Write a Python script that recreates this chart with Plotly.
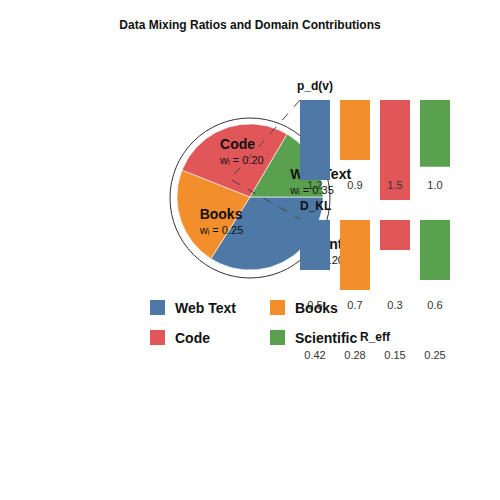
import numpy as np
import plotly.graph_objects as go

# --- data ---
domains = ['Web Text', 'Books', 'Code', 'Scientific']
colors = ['#4e79a7', '#f28e2b', '#e15759', '#59a14f']

weights = [0.35, 0.25, 0.20, 0.20]          # printed in the slice labels
slice_share = [0.34, 0.22, 0.275, 0.165]    # slice sizes as drawn
p_d = [1.2, 0.9, 1.5, 1.0]                  # p_d(v)
d_kl = [0.5, 0.7, 0.3, 0.6]                 # D_KL
r_eff = [0.42, 0.28, 0.15, 0.25]            # R_eff

FONT = 'Liberation Sans, Arial, sans-serif'
R = 73.0  # pie radius in px, pie axes use 1 unit = R px

# label anchor points in pie units (left aligned)
label_pos = [(0.55, 0.30), (-0.69, -0.25), (-0.41, 0.71), (0.69, -0.66)]

fig = go.Figure()

# --- pie drawn as filled polygons (first slice starts at 3 o'clock, clockwise) ---
cum = np.concatenate([[0], np.cumsum(slice_share)])
for i, name in enumerate(domains):
    a = -2 * np.pi * np.linspace(cum[i], cum[i + 1], 60)
    xs = np.concatenate([[0], np.cos(a), [0]])
    ys = np.concatenate([[0], np.sin(a), [0]])
    fig.add_trace(go.Scatter(
        x=xs, y=ys, mode='lines', fill='toself', fillcolor=colors[i],
        line=dict(color='white', width=0.6), hoverinfo='skip',
        xaxis='x', yaxis='y', showlegend=False
    ))

# slice labels
fig.add_trace(go.Scatter(
    x=[p[0] for p in label_pos], y=[p[1] for p in label_pos],
    mode='text', text=['<b>%s</b>' % d for d in domains],
    textposition='middle right',
    textfont=dict(family=FONT, size=14, color='#111'),
    xaxis='x', yaxis='y', showlegend=False, hoverinfo='skip'
))
fig.add_trace(go.Scatter(
    x=[p[0] for p in label_pos], y=[p[1] - 16 / R for p in label_pos],
    mode='text', text=['w\u1d62 = %.2f' % w for w in weights],
    textposition='middle right',
    textfont=dict(family=FONT, size=11, color='#111'),
    xaxis='x', yaxis='y', showlegend=False, hoverinfo='skip'
))

# --- bars: p_d(v) on top, D_KL below ---
fig.add_trace(go.Bar(x=domains, y=p_d, marker=dict(color=colors, line_width=0),
                     xaxis='x2', yaxis='y2', showlegend=False, hoverinfo='skip'))
fig.add_trace(go.Scatter(x=domains, y=[1.29] * 4, mode='text',
                         text=['%.1f' % v for v in p_d],
                         textfont=dict(family=FONT, size=11, color='#333'),
                         xaxis='x2', yaxis='y2', showlegend=False, hoverinfo='skip'))

fig.add_trace(go.Bar(x=domains, y=d_kl, marker=dict(color=colors, line_width=0),
                     xaxis='x3', yaxis='y3', showlegend=False, hoverinfo='skip'))
fig.add_trace(go.Scatter(x=domains, y=[0.86] * 4, mode='text',
                         text=['%.1f' % v for v in d_kl],
                         textfont=dict(family=FONT, size=11, color='#333'),
                         xaxis='x3', yaxis='y3', showlegend=False, hoverinfo='skip'))
fig.add_trace(go.Scatter(x=domains, y=[1.36] * 4, mode='text',
                         text=['%.2f' % v for v in r_eff],
                         textfont=dict(family=FONT, size=11, color='#333'),
                         xaxis='x3', yaxis='y3', showlegend=False, hoverinfo='skip'))

hidden = dict(visible=False, showgrid=False, zeroline=False, fixedrange=True)

# --- legend (2 x 2), ring, connector ---
shapes = [
    dict(type='circle', xref='x', yref='y', layer='below',
         x0=-80 / R, x1=80 / R, y0=(-1 - 80) / R, y1=(-1 + 80) / R,
         line=dict(color='#333', width=1)),
    dict(type='path', xref='paper', yref='paper', layer='above',
         path='M 0.6 0.8 L 0.46 0.642 L 0.6 0.562',
         line=dict(color='#444', width=1, dash='dash')),
]
annotations = []
legend_xy = [(0.30, 0.37), (0.54, 0.37), (0.30, 0.31), (0.54, 0.31)]
for (lx, ly), name, c in zip(legend_xy, domains, colors):
    shapes.append(dict(type='rect', xref='paper', yref='paper', layer='above',
                       x0=lx, x1=lx + 0.03, y0=ly, y1=ly + 0.03,
                       fillcolor=c, line_width=0))
    annotations.append(dict(xref='paper', yref='paper', x=lx + 0.046, y=ly + 0.015,
                            text='<b>%s</b>' % name, showarrow=False,
                            xanchor='left', yanchor='middle',
                            font=dict(family=FONT, size=14, color='#111')))

for txt, xr, xv, yv in [('p_d(v)', 'x2', 0, 0.828), ('D_KL', 'x3', 0, 0.588),
                        ('R_eff', 'x3', 1.5, 0.326)]:
    annotations.append(dict(xref=xr, yref='paper', x=xv, y=yv, text='<b>%s</b>' % txt,
                            showarrow=False, xanchor='center', yanchor='middle',
                            font=dict(family=FONT, size=12, color='#111')))

fig.update_layout(
    width=500, height=500,
    margin=dict(l=0, r=0, t=0, b=0),
    paper_bgcolor='white', plot_bgcolor='rgba(0,0,0,0)',
    title=dict(text='<b>Data Mixing Ratios and Domain Contributions</b>',
               x=0.5, xanchor='center', y=0.95, yanchor='middle',
               font=dict(family=FONT, size=12, color='#111')),
    xaxis=dict(domain=[0, 1], range=[-250 / R, 250 / R], **hidden),
    yaxis=dict(domain=[0, 1], range=[-303 / R, 197 / R], **hidden),
    xaxis2=dict(domain=[0.59, 0.91], range=[-0.5, 3.5], anchor='y2', **hidden),
    yaxis2=dict(domain=[0.6, 0.8], range=[1.5, 0], anchor='x2', **hidden),
    xaxis3=dict(domain=[0.59, 0.91], range=[-0.5, 3.5], anchor='y3', **hidden),
    yaxis3=dict(domain=[0.26, 0.56], range=[1.5, 0], anchor='x3', **hidden),
    bargap=0.25,
    shapes=shapes, annotations=annotations,
    font=dict(family=FONT),
)

# page body margin would shift the 500x500 figure
fig.write_html('out.html', config={'displayModeBar': False},
               post_script="document.body.style.margin='0';")
